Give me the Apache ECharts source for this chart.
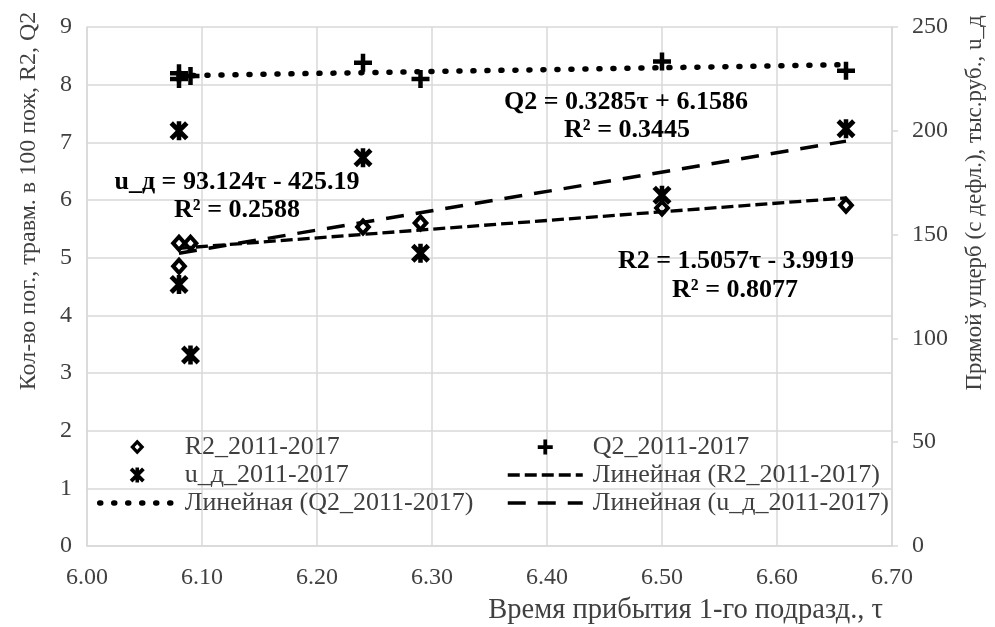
<!DOCTYPE html>
<html>
<head>
<meta charset="utf-8">
<script src="https://cdn.jsdelivr.net/npm/echarts@6/dist/echarts.min.js"></script>
<style>
  html, body { margin: 0; padding: 0; background: #fff; }
  #chart { width: 995px; height: 627px; }
</style>
</head>
<body>
<div id="chart"></div>
<script>
// Arrival time of the first unit, per year 2011-2017
const tau = [6.08, 6.08, 6.09, 6.24, 6.29, 6.50, 6.66];
// Casualties per 100 fires (left axis)
const r2 = [5.25, 4.85, 5.25, 5.53, 5.60, 5.86, 5.91];
const q2 = [8.20, 8.10, 8.15, 8.38, 8.10, 8.40, 8.24];
// Direct damage, thousand rub. (right axis)
const ud = [200, 126, 92, 187, 141, 169, 201];

// Linear trend coefficients [slope, intercept] and R²
const trendR2 = [1.5057, -3.9919];
const trendQ2 = [0.3285, 6.1586];
const trendUd = [93.124, -425.19];
const rsqR2 = '0.8077';
const rsqQ2 = '0.3445';
const rsqUd = '0.2588';

// Axis ticks
const xTicks = [6.0, 6.7, 0.1];
const yLeftTicks = [0, 9, 1];
const yRightTicks = [0, 250, 50];

const names = {
  r2: 'R2_2011-2017',
  q2: 'Q2_2011-2017',
  ud: 'u_д_2011-2017',
  lr2: 'Линейная (R2_2011-2017)',
  lq2: 'Линейная (Q2_2011-2017)',
  lud: 'Линейная (u_д_2011-2017)'
};

const SERIF = '"Liberation Serif", "Times New Roman", serif';
const GREY = '#404040';
const GRID = '#d9d9d9';

const pts = (ys) => tau.map((t, i) => [t, ys[i]]);
const tMin = Math.min(...tau), tMax = Math.max(...tau);
const trend = (c) => [[tMin, c[0] * tMin + c[1]], [tMax, c[0] * tMax + c[1]]];
const eq = (label, c) => label + ' = ' + c[0] + 'τ ' + (c[1] < 0 ? '- ' : '+ ') + Math.abs(c[1]);

// Marker shapes: hollow diamond ring, plus, asterisk
const DIAMOND = 'path://M9,0 L18,9.5 L9,19 L0,9.5 Z M9,6 L5.7,9.5 L9,13 L12.3,9.5 Z';
const PLUS = 'path://M7.5,0 H12.5 V7.5 H20 V12.5 H12.5 V20 H7.5 V12.5 H0 V7.5 H7.5 Z';
const STAR = 'path://M0,3.6 L3.6,0 L20,16.4 L16.4,20 Z M16.4,0 L20,3.6 L3.6,20 L0,16.4 Z M7.6,0 L12.4,0 L12.4,20 L7.6,20 Z';

// Marker and trend line styles (shared by the chart and its legend)
const solidStyle = { color: '#000', borderWidth: 0, opacity: 1 };
const lsR2 = { color: '#000', width: 3.3, type: [12, 5] };
const lsQ2 = { color: '#000', width: 5.5, type: [1, 13], cap: 'round' };
const lsUd = { color: '#000', width: 3.5, type: [18, 12] };
const hidden = { color: 'rgba(0,0,0,0)', borderColor: 'rgba(0,0,0,0)', borderWidth: 0 };

const chart = echarts.init(document.getElementById('chart'), null, { renderer: 'canvas' });

const legendBase = {
  orient: 'vertical',
  top: 434,
  padding: 0,
  itemWidth: 75,
  itemHeight: 15,
  itemGap: 2,
  selectedMode: false,
  textStyle: { fontFamily: SERIF, fontSize: 26, color: GREY, lineHeight: 26, padding: [0, 0, 0, 5] }
};

const eqText = (txt, x, y) => ({
  type: 'text', x: x, y: y, z: 10,
  style: { text: txt, align: 'center', verticalAlign: 'middle',
           fontFamily: SERIF, fontSize: 26, fontWeight: 'bold', fill: '#000' }
});

chart.setOption({
  animation: false,
  backgroundColor: '#fff',
  grid: { left: 87, right: 103, top: 27, bottom: 81 },
  legend: [
    Object.assign({}, legendBase, { left: 97, data: [
      { name: names.r2, itemStyle: solidStyle },
      { name: names.ud, itemStyle: solidStyle },
      { name: names.lq2, lineStyle: lsQ2, itemStyle: hidden }
    ] }),
    Object.assign({}, legendBase, { left: 506, data: [
      { name: names.q2, itemStyle: solidStyle },
      { name: names.lr2, lineStyle: lsR2, itemStyle: hidden },
      { name: names.lud, lineStyle: lsUd, itemStyle: hidden }
    ] })
  ],
  xAxis: {
    type: 'value', min: xTicks[0], max: xTicks[1], interval: xTicks[2],
    axisLine: { show: true, lineStyle: { color: GRID, width: 1.5 } },
    axisTick: { show: false },
    splitLine: { show: true, lineStyle: { color: GRID, width: 1.5 } },
    axisLabel: { margin: 20, fontFamily: SERIF, fontSize: 24, color: GREY,
                 formatter: (v) => v.toFixed(2) }
  },
  yAxis: [
    {
      type: 'value', min: yLeftTicks[0], max: yLeftTicks[1], interval: yLeftTicks[2],
      axisLine: { show: true, lineStyle: { color: GRID, width: 1.5 } },
      axisTick: { show: false },
      splitLine: { show: true, lineStyle: { color: GRID, width: 1.5 } },
      axisLabel: { margin: 15, fontFamily: SERIF, fontSize: 24, color: GREY }
    },
    {
      type: 'value', position: 'right',
      min: yRightTicks[0], max: yRightTicks[1], interval: yRightTicks[2],
      axisLine: { show: true, lineStyle: { color: GRID, width: 1.5 } },
      axisTick: { show: true, length: 6, lineStyle: { color: GRID, width: 1.5 } },
      splitLine: { show: false },
      axisLabel: { margin: 20, fontFamily: SERIF, fontSize: 24, color: GREY }
    }
  ],
  series: [
    {
      name: names.r2, type: 'scatter', data: pts(r2), z: 2,
      symbol: DIAMOND, symbolSize: [18, 19], symbolKeepAspect: true,
      itemStyle: solidStyle
    },
    {
      name: names.q2, type: 'scatter', data: pts(q2), z: 2,
      symbol: PLUS, symbolSize: 18,
      itemStyle: solidStyle
    },
    {
      name: names.ud, type: 'scatter', data: pts(ud), yAxisIndex: 1, z: 2,
      symbol: STAR, symbolSize: 19,
      itemStyle: solidStyle
    },
    {
      name: names.lr2, type: 'line', data: trend(trendR2), z: 3,
      symbol: 'none', silent: true, itemStyle: hidden, lineStyle: lsR2
    },
    {
      name: names.lq2, type: 'line', data: trend(trendQ2), z: 3,
      symbol: 'none', silent: true, itemStyle: hidden, lineStyle: lsQ2
    },
    {
      name: names.lud, type: 'line', data: trend(trendUd), yAxisIndex: 1, z: 3,
      symbol: 'none', silent: true, itemStyle: hidden, lineStyle: lsUd
    }
  ],
  graphic: [
    eqText(eq('u_д', trendUd), 237, 182),
    eqText('R² = ' + rsqUd, 237, 210),
    eqText(eq('Q2', trendQ2), 626, 102),
    eqText('R² = ' + rsqQ2, 627, 130),
    eqText(eq('R2', trendR2), 736, 261),
    eqText('R² = ' + rsqR2, 735, 290),
    {
      type: 'text', x: 883, y: 611,
      style: { text: 'Время прибытия 1-го подразд., τ', align: 'right', verticalAlign: 'middle',
               fontFamily: SERIF, fontSize: 28.5, fill: GREY }
    },
    {
      type: 'text', x: 29, y: 201, rotation: Math.PI / 2,
      style: { text: 'Кол-во пог., травм. в 100 пож, R2, Q2', align: 'center', verticalAlign: 'middle',
               fontFamily: SERIF, fontSize: 24, fill: GREY }
    },
    {
      type: 'text', x: 975, y: 203, rotation: Math.PI / 2,
      style: { text: 'Прямой ущерб (с дефл.), тыс.руб., u_д', align: 'center', verticalAlign: 'middle',
               fontFamily: SERIF, fontSize: 23, fill: GREY }
    }
  ]
});
</script>
</body>
</html>
